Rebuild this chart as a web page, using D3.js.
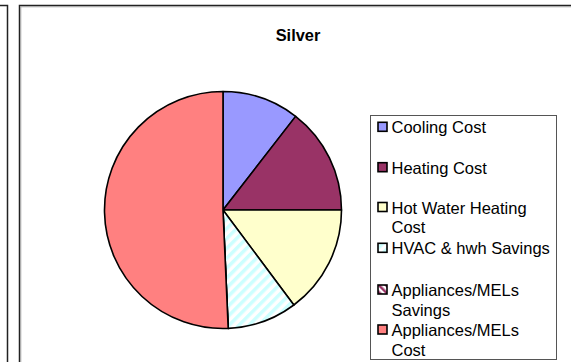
<!DOCTYPE html>
<html><head><meta charset="utf-8">
<script src="https://cdn.jsdelivr.net/npm/d3@7"></script>
<style>html,body{margin:0;padding:0;background:#fff;}svg{display:block;}</style>
</head><body>
<svg id="c" width="571" height="362"></svg>
<script>
const categories = ["Cooling Cost","Heating Cost","Hot Water Heating Cost","HVAC & hwh Savings","Appliances/MELs Savings","Appliances/MELs Cost"];
const values = [10.5, 14.5, 14.8, 9.5, 0, 50.7];
const legendLines = [["Cooling Cost"],["Heating Cost"],["Hot Water Heating","Cost"],["HVAC & hwh Savings"],["Appliances/MELs","Savings"],["Appliances/MELs","Cost"]];
const colors = ["#9999ff","#993366","#ffffcc","url(#hvac)","url(#appl)","#ff8080"];
const title = "Silver";

const svg = d3.select("#c");
const defs = svg.append("defs");
const p1 = defs.append("pattern").attr("id","hvac").attr("patternUnits","userSpaceOnUse")
  .attr("width",7).attr("height",7).attr("patternTransform","rotate(45)");
p1.append("rect").attr("width",7).attr("height",7).attr("fill","#fff");
p1.append("rect").attr("width",3.5).attr("height",7).attr("fill","#ccffff");
const p2 = defs.append("pattern").attr("id","appl").attr("patternUnits","userSpaceOnUse")
  .attr("width",5).attr("height",5).attr("patternTransform","rotate(-45)");
p2.append("rect").attr("width",5).attr("height",5).attr("fill","#fff");
p2.append("rect").attr("width",2.5).attr("height",5).attr("fill","#993366");

// frames
svg.append("path").attr("d","M0,5.5 H7.5 V362").attr("fill","none").attr("stroke","#222").attr("stroke-width",1.5);
svg.append("path").attr("d","M19.5,362 V5.5 H571").attr("fill","none").attr("stroke","#222").attr("stroke-width",1.5);
svg.append("path").attr("d","M20.8,362 V6.8 H571").attr("fill","none").attr("stroke","#999").attr("stroke-width",0.8);

svg.append("text").attr("x",298).attr("y",40.5).attr("text-anchor","middle")
  .attr("font-family","Liberation Sans, Arial, sans-serif").attr("font-weight","bold").attr("font-size",16.4).text(title);

const cx = 223, cy = 210, r = 118.5;
const pie = d3.pie().sort(null).value(d=>d)(values);
const arc = d3.arc().innerRadius(0).outerRadius(r);
svg.append("g").attr("transform",`translate(${cx},${cy})`)
  .selectAll("path").data(pie).join("path")
  .attr("d",arc).attr("fill",(d,i)=>colors[i])
  .attr("stroke","#000").attr("stroke-width",1.6).attr("stroke-linejoin","round");

// legend
svg.append("rect").attr("x",370.5).attr("y",115.5).attr("width",186).attr("height",244)
  .attr("fill","#fff").attr("stroke","#555").attr("stroke-width",1);
const itemY = [127.3, 167.7, 207.5, 248.3, 290, 330];
const lg = svg.append("g");
categories.forEach((c,i)=>{
  lg.append("rect").attr("x",378).attr("y",itemY[i]-5).attr("width",9).attr("height",9)
    .attr("fill",colors[i]).attr("stroke","#000").attr("stroke-width",1.6);
  const t = lg.append("text").attr("font-family","Liberation Sans, Arial, sans-serif").attr("font-size",16.5).attr("fill","#000");
  legendLines[i].forEach((ln,j)=>{
    t.append("tspan").attr("x",391.5).attr("y",itemY[i]+6+j*19.8).text(ln);
  });
});
</script>
</body></html>
